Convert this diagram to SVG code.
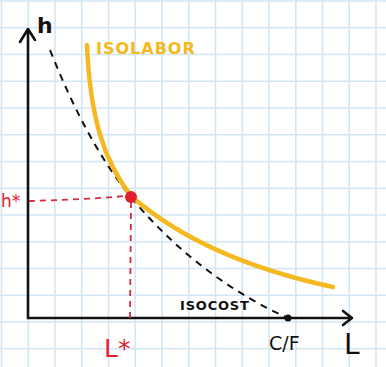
<svg xmlns="http://www.w3.org/2000/svg" width="386" height="367" viewBox="0 0 386 367">
<defs>
<style>
.grid line{stroke:#d3e6f4;stroke-width:1.6}
.axis{fill:none;stroke:#111;stroke-width:2.6;stroke-linecap:round;stroke-linejoin:round}
.iso{fill:none;stroke:#f4b820;stroke-width:4.5;stroke-linecap:round}
.cost{fill:none;stroke:#111;stroke-width:2;stroke-dasharray:7 6}
.guide{fill:none;stroke:#d8283c;stroke-width:1.8;stroke-dasharray:6 5}
.lbl{font-family:"DejaVu Sans",sans-serif;fill:#111}
.red{fill:#e0202f}
</style>
</defs>
<rect width="386" height="367" fill="#ffffff"/>
<g class="grid" id="grid">
<line x1="1.5" y1="0" x2="1.5" y2="367"/><line x1="28.25" y1="0" x2="28.25" y2="367"/><line x1="55" y1="0" x2="55" y2="367"/><line x1="81.75" y1="0" x2="81.75" y2="367"/><line x1="108.5" y1="0" x2="108.5" y2="367"/><line x1="135.25" y1="0" x2="135.25" y2="367"/><line x1="162" y1="0" x2="162" y2="367"/><line x1="188.75" y1="0" x2="188.75" y2="367"/><line x1="215.5" y1="0" x2="215.5" y2="367"/><line x1="242.25" y1="0" x2="242.25" y2="367"/><line x1="269" y1="0" x2="269" y2="367"/><line x1="295.75" y1="0" x2="295.75" y2="367"/><line x1="322.5" y1="0" x2="322.5" y2="367"/><line x1="349.25" y1="0" x2="349.25" y2="367"/><line x1="376" y1="0" x2="376" y2="367"/>
<line x1="0" y1="1" x2="386" y2="1"/><line x1="0" y1="27.75" x2="386" y2="27.75"/><line x1="0" y1="54.5" x2="386" y2="54.5"/><line x1="0" y1="81.25" x2="386" y2="81.25"/><line x1="0" y1="108" x2="386" y2="108"/><line x1="0" y1="134.75" x2="386" y2="134.75"/><line x1="0" y1="161.5" x2="386" y2="161.5"/><line x1="0" y1="188.25" x2="386" y2="188.25"/><line x1="0" y1="215" x2="386" y2="215"/><line x1="0" y1="241.75" x2="386" y2="241.75"/><line x1="0" y1="268.5" x2="386" y2="268.5"/><line x1="0" y1="295.25" x2="386" y2="295.25"/><line x1="0" y1="322" x2="386" y2="322"/><line x1="0" y1="348.75" x2="386" y2="348.75"/>
</g>
<g id="axes">
<path class="axis" d="M28 318 L28 30 M20 42 L28 29 L35 40"/>
<path class="axis" d="M28 318 L351 318 M343 311 L352 318 L343 325"/>
<circle cx="288" cy="318" r="3.5" fill="#111"/>
</g>
<g id="connectors">
<path class="cost" d="M50 50 C72 105 97 155 130 196 C170 245 225 290 288 318"/>
<path class="iso" d="M87 45 C90 115 103 160 131 196 C170 230 230 265 333 287"/>
<path class="guide" d="M29 201 C60 200 95 199 125 196"/>
<path class="guide" d="M131 202 L130 318"/>
</g>
<g id="optimum">
<circle class="red" cx="131" cy="197" r="6"/>
</g>
<g id="labels">
<text class="lbl" x="37" y="33" font-size="22" font-weight="bold">h</text>
<text class="lbl" x="96" y="54" font-size="16" font-weight="bold" letter-spacing="1" style="fill:#f4b820">ISOLABOR</text>
<text class="lbl" x="180" y="310" font-size="13" font-weight="bold" letter-spacing="0.8">ISOCOST</text>
<text class="lbl" x="269" y="350" font-size="19">C/F</text>
<text class="lbl" x="344" y="354" font-size="28">L</text>
<text class="lbl red" x="104" y="357" font-size="25">L*</text>
<text class="lbl red" x="1" y="207" font-size="17">h*</text>
</g>
</svg>
